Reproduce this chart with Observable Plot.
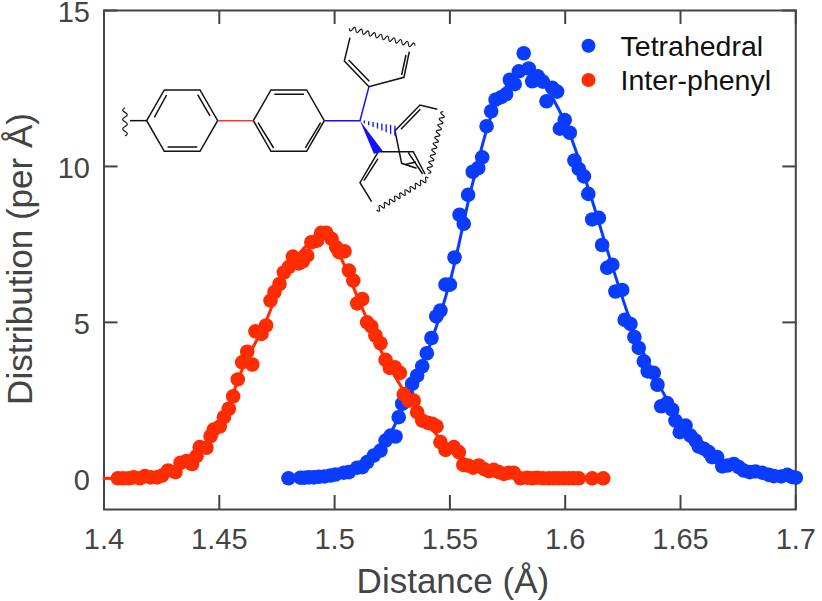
<!DOCTYPE html>
<html>
<head>
<meta charset="utf-8">
<script src="https://cdn.jsdelivr.net/npm/d3@7"></script>
<script src="https://cdn.jsdelivr.net/npm/@observablehq/plot@0.6"></script>
<style>
  body { margin: 0; background: #fff; }
</style>
</head>
<body>
<div id="chart"></div>
<script>
// points
const blueX = [1.48, 1.4852, 1.4869, 1.4888, 1.491, 1.4931, 1.4956, 1.4982, 1.5004, 1.504, 1.5062, 1.5098, 1.512, 1.5141, 1.517, 1.5199, 1.5221, 1.5243, 1.5264, 1.5278, 1.5293, 1.5315, 1.5336, 1.5358, 1.538, 1.54, 1.542, 1.5441, 1.5459, 1.5481, 1.55, 1.552, 1.5542, 1.556, 1.5579, 1.5599, 1.5623, 1.564, 1.5659, 1.5679, 1.5698, 1.5722, 1.5744, 1.576, 1.5781, 1.5799, 1.582, 1.5842, 1.5857, 1.5881, 1.5903, 1.5919, 1.5944, 1.5965, 1.5977, 1.5998, 1.602, 1.604, 1.6059, 1.6081, 1.61, 1.6117, 1.6146, 1.616, 1.6182, 1.6204, 1.6218, 1.6247, 1.6258, 1.6283, 1.63, 1.6319, 1.6341, 1.6358, 1.6384, 1.64, 1.6416, 1.6442, 1.6464, 1.6478, 1.6497, 1.6522, 1.6543, 1.6565, 1.6579, 1.6601, 1.6623, 1.6637, 1.6659, 1.6681, 1.6703, 1.6731, 1.6753, 1.6774, 1.68, 1.6825, 1.6854, 1.6883, 1.6905, 1.6937, 1.6963, 1.6985, 1.7];
const blueY = [0.0, 0.02, 0.02, 0.03, 0.03, 0.05, 0.06, 0.09, 0.12, 0.18, 0.2, 0.34, 0.36, 0.52, 0.73, 0.89, 1.21, 1.37, 1.34, 1.96, 2.39, 2.7, 3.03, 3.29, 3.59, 4.01, 4.5, 5.19, 5.38, 6.21, 6.21, 7.08, 8.45, 8.16, 9.09, 9.83, 9.95, 10.29, 11.29, 11.77, 12.14, 12.22, 12.32, 12.78, 12.64, 13.05, 13.63, 13.14, 12.73, 12.89, 12.72, 12.09, 12.52, 12.4, 11.21, 11.49, 11.08, 10.19, 9.92, 9.68, 9.12, 8.3, 8.35, 7.48, 6.75, 6.85, 5.99, 6.04, 5.08, 4.95, 4.53, 4.18, 3.75, 3.43, 3.38, 3.0, 2.31, 2.41, 2.2, 1.85, 1.48, 1.69, 1.37, 1.21, 1.02, 0.95, 0.84, 0.68, 0.68, 0.38, 0.41, 0.46, 0.36, 0.25, 0.2, 0.22, 0.18, 0.11, 0.07, 0.06, 0.11, 0.04, 0.02];

const redX = [1.406, 1.4083, 1.4108, 1.4129, 1.4155, 1.4177, 1.4202, 1.4231, 1.4252, 1.4278, 1.431, 1.4332, 1.4358, 1.4382, 1.4401, 1.4415, 1.4444, 1.4462, 1.4476, 1.4502, 1.452, 1.4541, 1.456, 1.458, 1.4599, 1.4621, 1.4643, 1.4657, 1.4683, 1.4703, 1.4722, 1.4739, 1.4761, 1.478, 1.4801, 1.4819, 1.4845, 1.4862, 1.4881, 1.4899, 1.4924, 1.4942, 1.4964, 1.4987, 1.5007, 1.502, 1.5043, 1.5062, 1.5081, 1.5098, 1.512, 1.5141, 1.5159, 1.5177, 1.5199, 1.5221, 1.5239, 1.5261, 1.5283, 1.53, 1.5322, 1.5343, 1.5358, 1.538, 1.5404, 1.5423, 1.5442, 1.5459, 1.5481, 1.5517, 1.5539, 1.5558, 1.5578, 1.5601, 1.5625, 1.5647, 1.5669, 1.569, 1.5712, 1.5734, 1.5755, 1.5777, 1.5806, 1.5835, 1.5857, 1.5878, 1.5903, 1.5929, 1.5951, 1.5972, 1.5994, 1.6016, 1.6037, 1.6059, 1.6117, 1.6165];
const redY = [0.0, 0.0, 0.0, 0.03, 0.0, 0.07, 0.03, 0.03, 0.09, 0.25, 0.2, 0.5, 0.55, 0.46, 0.71, 1.0, 0.98, 1.35, 1.56, 1.66, 1.96, 2.23, 2.63, 3.17, 3.72, 4.06, 3.65, 4.71, 4.63, 4.9, 5.7, 5.97, 6.23, 6.6, 6.77, 7.11, 6.89, 6.96, 7.14, 7.57, 7.62, 7.87, 7.87, 7.68, 7.41, 7.25, 7.28, 6.66, 6.34, 5.61, 5.75, 5.0, 4.87, 4.58, 4.33, 3.8, 3.54, 3.56, 3.38, 2.69, 2.49, 2.49, 2.12, 1.85, 1.78, 1.75, 1.67, 1.16, 0.91, 1.0, 0.84, 0.43, 0.41, 0.34, 0.41, 0.3, 0.23, 0.27, 0.2, 0.14, 0.18, 0.18, 0.0, 0.02, 0.0, 0.02, 0.0, 0.0, 0.0, 0.0, 0.0, 0.0, 0.0, 0.0, 0.0, 0.0];

// the fitted curves under the points
const blueFitX = [1.48, 1.49, 1.5, 1.51, 1.52, 1.53, 1.54, 1.55, 1.56, 1.57, 1.58, 1.585, 1.59, 1.6, 1.61, 1.62, 1.63, 1.64, 1.65, 1.66, 1.67, 1.68, 1.69, 1.7];
const blueFitY = [0, 0.03, 0.1, 0.32, 0.95, 2.3, 4.0, 6.3, 9.5, 12.0, 13.0, 13.05, 12.7, 11.4, 9.3, 6.9, 4.7, 3.1, 1.8, 0.95, 0.45, 0.22, 0.07, 0.02];
const redFitX = [1.4, 1.41, 1.42, 1.43, 1.44, 1.45, 1.46, 1.47, 1.48, 1.49, 1.495, 1.5, 1.51, 1.52, 1.53, 1.54, 1.55, 1.56, 1.57, 1.58, 1.6, 1.617];
const redFitY = [0, 0, 0.03, 0.25, 0.75, 1.65, 3.5, 5.0, 6.75, 7.6, 7.8, 7.45, 5.8, 4.1, 2.8, 1.75, 1.0, 0.45, 0.22, 0.05, 0, 0];

const xTicks = [1.4, 1.45, 1.5, 1.55, 1.6, 1.65, 1.7];
const yTicks = [0, 5, 10, 15];
const seriesNames = ["Tetrahedral", "Inter-phenyl"];
const seriesColors = ["#0a3cff", "#ff2c00"];
const legendY = [13.87, 12.77];

const axisColor = "#444";
const fontSize = 29;

const table = (xs, ys) => xs.map((x, i) => ({x, y: ys[i]}));

// wavy bond for the inset, in the inset's own coordinates
function wiggle(x0, y0, x1, y1, n) {
  const dx = (x1 - x0) / n, dy = (y1 - y0) / n;
  const len = Math.hypot(dx, dy), nx = -dy / len * 14, ny = dx / len * 14;
  let d = `M${x0},${y0}`;
  for (let i = 0; i < n; i++) {
    const s = i % 2 ? -1 : 1;
    d += `Q${x0 + dx * (i + 0.5) + nx * s},${y0 + dy * (i + 0.5) + ny * s} ${x0 + dx * (i + 1)},${y0 + dy * (i + 1)}`;
  }
  return d;
}

const insetBlack = [
  "M90,332H140",
  "M140,332L193,240H300L353,332L300,424H193Z",
  "M163,322L200,255M293,254L330,318M203,411H292",
  "M460,332L513,240H620L673,332L620,424H513Z",
  "M523,253H612M474,338L521,414M616,414L662,338",
  "M750,83L733,153L807,230L912,202L928,125",
  "M746,150L808,214M905,195L918,135",
  "M1012,298L960,285L885,362L905,460L950,475",
  "M903,358L961,298M918,463L948,456",
  "M835,425H940L975,492M925,428L968,492",
  "M835,425L780,518L815,575M834,446L792,512"
];
const insetWaves = [
  [75, 293, 75, 378, 6],
  [748, 55, 945, 107, 20],
  [1030, 305, 985, 490, 20],
  [985, 505, 830, 600, 20]
];

function inset() {
  const g = d3.create("svg:g")
    .attr("transform", "translate(100,10) scale(0.3333)")
    .attr("fill", "none");
  g.selectAll(".b").data(insetBlack).join("path")
    .attr("d", d => d).attr("stroke", "#111").attr("stroke-width", 4.5);
  g.selectAll(".w").data(insetWaves).join("path")
    .attr("d", d => wiggle(...d)).attr("stroke", "#111").attr("stroke-width", 3.5);
  g.append("path").attr("d", "M353,332H460").attr("stroke", "#f33").attr("stroke-width", 4.5);
  g.append("path").attr("d", "M673,332H780L807,230").attr("stroke", "#11f").attr("stroke-width", 4.5);
  g.append("path").attr("d", "M780,332L848,422L822,432Z").attr("fill", "#11f");
  // hashed bond
  d3.range(8).forEach(i => {
    const t = (i + 1) / 8, x = 780 + 105 * t, y = 332 + 30 * t, h = 3 + 12 * t;
    g.append("path").attr("d", `M${x},${y - h}L${x},${y + h}`).attr("stroke", "#11f").attr("stroke-width", 4);
  });
  return g.node();
}

const tickAxis = {tickSize: -14, stroke: axisColor, strokeWidth: 2, color: axisColor};
const noLabel = () => "";
const xTickStyle = {stroke: axisColor, strokeWidth: 2};

const plot = Plot.plot({
  width: 822,
  height: 601,
  marginLeft: 103.5,
  marginRight: 26.7,
  marginTop: 10,
  marginBottom: 92,
  style: {fontFamily: "'Liberation Sans', Arial, sans-serif", background: "#fff", overflow: "visible"},
  x: {domain: [1.4, 1.7]},
  y: {domain: [-1, 15]},
  marks: [
    Plot.axisX({ticks: xTicks, tickSize: 0, color: axisColor, tickFormat: d => String(d), fontSize, tickPadding: 19, label: null}),
    // x ticks point inward at both edges, as long as the y ticks
    Plot.ruleX(xTicks, {y1: -1, y2: -0.55, ...xTickStyle}),
    Plot.ruleX(xTicks, {y1: 15, y2: 14.55, ...xTickStyle}),
    Plot.axisY({...tickAxis, ticks: yTicks, tickFormat: noLabel, label: null}),
    Plot.axisY({...tickAxis, anchor: "right", ticks: yTicks, tickFormat: noLabel, label: null}),
    // y tick labels sit a little low, so the 15 stays inside the page
    Plot.text(yTicks, {x: () => 1.4, y: d => d, text: d => String(d), dx: -14, dy: 2, textAnchor: "end", fontSize, fill: axisColor}),
    Plot.frame({stroke: axisColor, strokeWidth: 2}),
    Plot.text(["Distance (Å)"], {frameAnchor: "bottom", dx: 3, dy: 83, fontSize: 35, fill: axisColor}),
    Plot.text(["Distribution (per Å)"], {frameAnchor: "left", textAnchor: "middle", rotate: -90, dx: -83, dy: -1, fontSize: 35, fill: axisColor}),

    inset,

    Plot.line(table(blueFitX, blueFitY), {x: "x", y: "y", stroke: seriesColors[0], strokeWidth: 3, curve: "catmull-rom"}),
    Plot.dot(table(blueX, blueY), {x: "x", y: "y", r: 7.3, fill: seriesColors[0], clip: false}),
    Plot.line(table(redFitX, redFitY), {x: "x", y: "y", stroke: seriesColors[1], strokeWidth: 3, curve: "catmull-rom"}),
    Plot.dot(table(redX, redY), {x: "x", y: "y", r: 7.3, fill: seriesColors[1], clip: false}),

    // legend
    Plot.dot(seriesNames, {x: () => 1.6101, y: (d, i) => legendY[i], r: 7, fill: (d, i) => seriesColors[i]}),
    Plot.text(seriesNames, {x: () => 1.624, y: (d, i) => legendY[i], dy: 1, text: d => d, textAnchor: "start", fontSize: 28.5, fill: "#111"})
  ]
});

document.getElementById("chart").append(plot);
</script>
</body>
</html>
